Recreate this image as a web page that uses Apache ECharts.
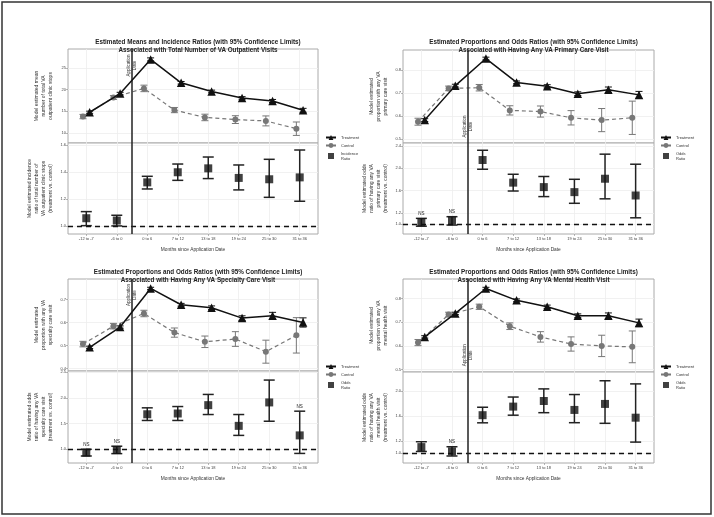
<!DOCTYPE html>
<html><head><meta charset="utf-8">
<script src="https://cdn.jsdelivr.net/npm/echarts@6/dist/echarts.min.js"></script>
<style>html,body{margin:0;padding:0;background:#fff}#c{width:714px;height:517px}</style>
</head><body><div id="c"></div>
<script>
const categories = ['-12 to -7','-6 to 0','0 to 6','7 to 12','13 to 18','19 to 24','25 to 30','31 to 36'];

// Panel 1: total number of VA outpatient visits
const p1Treat    = [14.8, 19.1, 27.0, 21.6, 19.6, 18.1, 17.4, 15.25];
const p1TreatErr = [0.25, 0.3, 0.35, 0.3, 0.3, 0.3, 0.35, 0.45];
const p1Ctrl     = [13.8, 18.2, 20.3, 15.3, 13.6, 13.1, 12.8, 11.0];
const p1CtrlErr  = [0.5, 0.45, 0.75, 0.6, 0.75, 0.9, 1.15, 1.55];
const p1Ratio    = [1.057, 1.04, 1.323, 1.398, 1.427, 1.356, 1.346, 1.36];
const p1RatioLo  = [1.002, 1.0, 1.274, 1.338, 1.351, 1.267, 1.212, 1.183];
const p1RatioHi  = [1.106, 1.079, 1.368, 1.459, 1.511, 1.452, 1.494, 1.563];
const p1NS       = [0, 0, 0, 0, 0, 0, 0, 0];
const p1TopTicks = [10, 15, 20, 25];
const p1BotTicks = [1.0, 1.2, 1.4, 1.6];

// Panel 2: any VA primary care visit
const p2Treat    = [0.583, 0.732, 0.849, 0.746, 0.729, 0.697, 0.714, 0.692];
const p2TreatErr = [0.006, 0.006, 0.006, 0.006, 0.007, 0.008, 0.012, 0.015];
const p2Ctrl     = [0.576, 0.72, 0.723, 0.625, 0.62, 0.593, 0.583, 0.593];
const p2CtrlErr  = [0.015, 0.01, 0.014, 0.02, 0.024, 0.031, 0.05, 0.072];
const p2Ratio    = [1.03, 1.06, 2.145, 1.74, 1.66, 1.57, 1.81, 1.51];
const p2RatioLo  = [0.96, 0.98, 1.98, 1.59, 1.49, 1.37, 1.45, 1.11];
const p2RatioHi  = [1.10, 1.13, 2.32, 1.89, 1.85, 1.80, 2.25, 2.07];
const p2NS       = [1, 1, 0, 0, 0, 0, 0, 0];
const p2TopTicks = [0.5, 0.6, 0.7, 0.8];
const p2BotTicks = [1.0, 1.2, 1.6, 2.0, 2.4];

// Panel 3: any VA specialty care visit
const p3Treat    = [0.493, 0.581, 0.749, 0.678, 0.665, 0.62, 0.63, 0.601];
const p3TreatErr = [0.005, 0.005, 0.005, 0.006, 0.008, 0.01, 0.015, 0.02];
const p3Ctrl     = [0.507, 0.585, 0.64, 0.557, 0.517, 0.529, 0.474, 0.545];
const p3CtrlErr  = [0.012, 0.012, 0.014, 0.02, 0.025, 0.032, 0.05, 0.077];
const p3Ratio    = [0.935, 0.987, 1.68, 1.695, 1.857, 1.455, 1.91, 1.27];
const p3RatioLo  = [0.87, 0.916, 1.56, 1.56, 1.675, 1.27, 1.545, 0.92];
const p3RatioHi  = [1.0, 1.06, 1.805, 1.83, 2.065, 1.675, 2.344, 1.74];
const p3NS       = [1, 1, 0, 0, 0, 0, 0, 1];
const p3TopTicks = [0.4, 0.5, 0.6, 0.7];
const p3BotTicks = [1.0, 1.5, 2.0, 2.5];

// Panel 4: any VA mental health visit
const p4Treat    = [0.638, 0.737, 0.842, 0.792, 0.765, 0.727, 0.727, 0.697];
const p4TreatErr = [0.005, 0.005, 0.005, 0.006, 0.007, 0.008, 0.012, 0.016];
const p4Ctrl     = [0.614, 0.732, 0.765, 0.683, 0.638, 0.608, 0.6, 0.596];
const p4CtrlErr  = [0.013, 0.01, 0.011, 0.014, 0.022, 0.03, 0.045, 0.067];
const p4Ratio    = [1.10, 1.032, 1.61, 1.747, 1.837, 1.694, 1.79, 1.57];
const p4RatioLo  = [1.03, 0.958, 1.488, 1.61, 1.65, 1.49, 1.48, 1.18];
const p4RatioHi  = [1.186, 1.106, 1.737, 1.9, 2.03, 1.94, 2.16, 2.11];
const p4NS       = [0, 1, 0, 0, 0, 0, 0, 0];
const p4TopTicks = [0.5, 0.6, 0.7, 0.8];
const p4BotTicks = [1.0, 1.2, 1.6, 2.0];

const FONT = 'Liberation Sans, Arial, sans-serif';
const catIdx = categories.map((c, i) => i + 1);

const option = {
  backgroundColor: '#fff',
  animation: false,
  textStyle: { fontFamily: FONT },
  title: [], grid: [], xAxis: [], yAxis: [], series: [], legend: [],
  graphic: [{ type: 'rect', shape: { x: 2, y: 2, width: 709, height: 512 },
    style: { fill: 'none', stroke: '#333', lineWidth: 1.5 }, silent: true }]
};

function errRender(capW, color, lw) {
  return function (params, api) {
    const x = api.value(0), lo = api.value(1), hi = api.value(2), ns = api.value(3);
    const a = api.coord([x, lo]), b = api.coord([x, hi]);
    const h = capW / 2;
    const st = { stroke: color, lineWidth: lw };
    const ch = [
      { type: 'line', shape: { x1: a[0], y1: a[1], x2: b[0], y2: b[1] }, style: st },
      { type: 'line', shape: { x1: a[0] - h, y1: a[1], x2: a[0] + h, y2: a[1] }, style: st },
      { type: 'line', shape: { x1: b[0] - h, y1: b[1], x2: b[0] + h, y2: b[1] }, style: st }
    ];
    if (ns) ch.push({ type: 'text', x: b[0], y: b[1] - 2,
      style: { text: 'NS', fontSize: 4.5, fill: '#222', align: 'center', verticalAlign: 'bottom', fontFamily: FONT } });
    return { type: 'group', children: ch };
  };
}

function annRender(params, api) {
  const p = api.coord([api.value(0), api.value(1)]);
  return { type: 'text', x: p[0], y: p[1], rotation: Math.PI / 2,
    style: { text: 'Application\nDate', fontSize: 4.5, lineHeight: 6, fill: '#333',
      align: 'center', verticalAlign: 'middle', fontFamily: FONT } };
}

function addPanel(c) {
  const gi = option.grid.length;
  const w = c.width;
  option.grid.push({ left: c.left, top: c.top, width: w, height: c.mid - c.top,
    show: true, borderColor: '#aaa', borderWidth: 1, backgroundColor: '#fff' });
  option.grid.push({ left: c.left, top: c.mid, width: w, height: c.bottom - c.mid,
    show: true, borderColor: '#aaa', borderWidth: 1, backgroundColor: '#fff' });
  option.title.push({ text: c.title, left: c.left + w / 2, top: c.titleTop, textAlign: 'center',
    textStyle: { fontSize: 6.3, fontWeight: 'bold', lineHeight: 8, color: '#222', fontFamily: FONT } });

  const xBase = { type: 'value', min: 0.4, max: 8.6, axisLine: { show: false },
    splitLine: { show: true, lineStyle: { color: '#eeeeee', width: 0.8 } } };
  option.xAxis.push(Object.assign({}, xBase, { gridIndex: gi,
    axisTick: { show: false, customValues: catIdx }, axisLabel: { show: false } }));
  option.xAxis.push(Object.assign({}, xBase, { gridIndex: gi + 1,
    axisTick: { show: true, customValues: catIdx, length: 2, lineStyle: { color: '#888', width: 0.6 } },
    axisLabel: { show: true, customValues: catIdx, formatter: v => categories[Math.round(v) - 1],
      fontSize: 4, color: '#444', margin: 3, fontFamily: FONT },
    name: 'Months since Application Date', nameLocation: 'middle', nameGap: 13,
    nameTextStyle: { fontSize: 4.8, color: '#333', fontFamily: FONT } }));

  function yAx(idx, y) {
    return { type: 'value', gridIndex: idx, min: y.min, max: y.max,
      axisLine: { show: false },
      axisTick: { show: true, customValues: y.ticks, length: 2, lineStyle: { color: '#888', width: 0.6 } },
      axisLabel: { customValues: y.ticks, formatter: v => v.toFixed(y.dec), fontSize: 4, color: '#444', margin: 2, fontFamily: FONT },
      splitLine: { show: true, lineStyle: { color: '#eeeeee', width: 0.8 } },
      name: y.name, nameLocation: 'middle', nameRotate: 90, nameGap: y.gap,
      nameTextStyle: { fontSize: 5, lineHeight: 7, color: '#333', align: 'center', fontFamily: FONT } };
  }
  option.yAxis.push(yAx(gi, c.yTop));
  option.yAxis.push(yAx(gi + 1, c.yBot));

  const ctrlPts = c.ctrl.map((v, i) => [i + 1 - 0.11, v]);
  const trPts = c.treat.map((v, i) => [i + 1 + 0.11, v]);
  option.series.push({ type: 'custom', xAxisIndex: gi, yAxisIndex: gi, silent: true, z: 2,
    renderItem: errRender(7, '#777', 1), encode: { x: 0, y: [1, 2] },
    data: c.ctrl.map((v, i) => [i + 1 - 0.11, v - c.ctrlErr[i], v + c.ctrlErr[i], 0]) });
  option.series.push({ name: 'Control', type: 'line', xAxisIndex: gi, yAxisIndex: gi, z: 3,
    data: ctrlPts, symbol: 'circle', symbolSize: 6,
    itemStyle: { color: '#777' }, lineStyle: { color: '#777', width: 1.2, type: [4, 3] } });
  option.series.push({ type: 'custom', xAxisIndex: gi, yAxisIndex: gi, silent: true, z: 4,
    renderItem: errRender(7, '#111', 1), encode: { x: 0, y: [1, 2] },
    data: c.treat.map((v, i) => [i + 1 + 0.11, v - c.treatErr[i], v + c.treatErr[i], 0]) });
  option.series.push({ name: 'Treatment', type: 'line', xAxisIndex: gi, yAxisIndex: gi, z: 5,
    data: trPts, symbol: 'triangle', symbolSize: 8.5,
    itemStyle: { color: '#111' }, lineStyle: { color: '#111', width: 1.5 },
    markLine: { silent: true, symbol: 'none', label: { show: false },
      lineStyle: { color: '#222', width: 1.5, type: 'solid' }, data: [{ xAxis: 2.5 }] } });
  option.series.push({ type: 'custom', xAxisIndex: gi, yAxisIndex: gi, silent: true, z: 6,
    renderItem: annRender, encode: { x: 0, y: 1 }, data: [[2.5, c.annY]] });

  option.series.push({ type: 'custom', xAxisIndex: gi + 1, yAxisIndex: gi + 1, silent: true, z: 4,
    renderItem: errRender(11, '#222', 1.5), encode: { x: 0, y: [1, 2] },
    data: c.ratio.map((v, i) => [i + 1, c.ratioLo[i], c.ratioHi[i], c.ns[i]]),
    markLine: { silent: true, symbol: 'none', label: { show: false },
      data: [
        { yAxis: 1, lineStyle: { color: '#111', width: 1.3, type: [5, 4] } },
        { xAxis: 2.5, lineStyle: { color: '#222', width: 1.5, type: 'solid' } }
      ] } });
  option.series.push({ name: c.ratioName, type: 'scatter', xAxisIndex: gi + 1, yAxisIndex: gi + 1, z: 5,
    data: c.ratio.map((v, i) => [i + 1, v]), symbol: 'rect', symbolSize: 8, symbolKeepAspect: true,
    itemStyle: { color: '#111' } });

  option.legend.push({ left: c.legLeft, top: c.legTop, orient: 'vertical',
    data: ['Treatment', 'Control', { name: c.ratioName, icon: 'path://M0,0M2,0h6v6h-6z M10,6' }],
    itemWidth: 10, itemHeight: 6, itemGap: 3,
    selectedMode: false, formatter: n => n.replace(' ', '\n'),
    textStyle: { fontSize: 4, lineHeight: 5, color: '#333', fontFamily: FONT } });
}

addPanel({ left: 68, width: 250, top: 49, mid: 143, bottom: 234, titleTop: 33,
  title: 'Estimated Means and Incidence Ratios (with 95% Confidence Limits)\nAssociated with Total Number of VA Outpatient Visits',
  yTop: { min: 7.7, max: 29.4, ticks: p1TopTicks, dec: 0, gap: 14, name: 'Model estimated mean\nnumber of total VA\noutpatient clinic stops' },
  yBot: { min: 0.94, max: 1.615, ticks: p1BotTicks, dec: 1, gap: 14, name: 'Model estimated incidence\nratio of total number of\nVA outpatient clinic stops\n(treatment vs. control)' },
  treat: p1Treat, treatErr: p1TreatErr, ctrl: p1Ctrl, ctrlErr: p1CtrlErr,
  ratio: p1Ratio, ratioLo: p1RatioLo, ratioHi: p1RatioHi, ns: p1NS, ratioName: 'Incidence Ratio',
  annY: 25.6, legLeft: 320, legTop: 130 });

addPanel({ left: 403, width: 251, top: 50, mid: 143, bottom: 234, titleTop: 33,
  title: 'Estimated Proportions and Odds Ratios (with 95% Confidence Limits)\nAssociated with Having Any VA Primary Care Visit',
  yTop: { min: 0.484, max: 0.886, ticks: p2TopTicks, dec: 1, gap: 14, name: 'Model estimated\nproportion with any VA\nprimary care visit' },
  yBot: { min: 0.82, max: 2.45, ticks: p2BotTicks, dec: 1, gap: 14, name: 'Model estimated odds\nratio of having any VA\nprimary care visit\n(treatment vs. control)' },
  treat: p2Treat, treatErr: p2TreatErr, ctrl: p2Ctrl, ctrlErr: p2CtrlErr,
  ratio: p2Ratio, ratioLo: p2RatioLo, ratioHi: p2RatioHi, ns: p2NS, ratioName: 'Odds Ratio',
  annY: 0.555, legLeft: 655, legTop: 130 });

addPanel({ left: 68, width: 250, top: 279, mid: 371, bottom: 463, titleTop: 263,
  title: 'Estimated Proportions and Odds Ratios (with 95% Confidence Limits)\nAssociated with Having Any VA Specialty Care Visit',
  yTop: { min: 0.39, max: 0.79, ticks: p3TopTicks, dec: 1, gap: 14, name: 'Model estimated\nproportion with any VA\nspecialty care visit' },
  yBot: { min: 0.734, max: 2.52, ticks: p3BotTicks, dec: 1, gap: 14, name: 'Model estimated odds\nratio of having any VA\nspecialty care visit\n(treatment vs. control)' },
  treat: p3Treat, treatErr: p3TreatErr, ctrl: p3Ctrl, ctrlErr: p3CtrlErr,
  ratio: p3Ratio, ratioLo: p3RatioLo, ratioHi: p3RatioHi, ns: p3NS, ratioName: 'Odds Ratio',
  annY: 0.72, legLeft: 320, legTop: 359 });

addPanel({ left: 403, width: 251, top: 279, mid: 372, bottom: 463, titleTop: 263,
  title: 'Estimated Proportions and Odds Ratios (with 95% Confidence Limits)\nAssociated with Having Any VA Mental Health Visit',
  yTop: { min: 0.49, max: 0.882, ticks: p4TopTicks, dec: 1, gap: 14, name: 'Model estimated\nproportion with any VA\nmental health visit' },
  yBot: { min: 0.846, max: 2.30, ticks: p4BotTicks, dec: 1, gap: 14, name: 'Model estimated odds\nratio of having any VA\nmental health visit\n(treatment vs. control)' },
  treat: p4Treat, treatErr: p4TreatErr, ctrl: p4Ctrl, ctrlErr: p4CtrlErr,
  ratio: p4Ratio, ratioLo: p4RatioLo, ratioHi: p4RatioHi, ns: p4NS, ratioName: 'Odds Ratio',
  annY: 0.561, legLeft: 655, legTop: 359 });

const chart = echarts.init(document.getElementById('c'), null, { renderer: 'canvas' });
chart.setOption(option);
</script></body></html>
